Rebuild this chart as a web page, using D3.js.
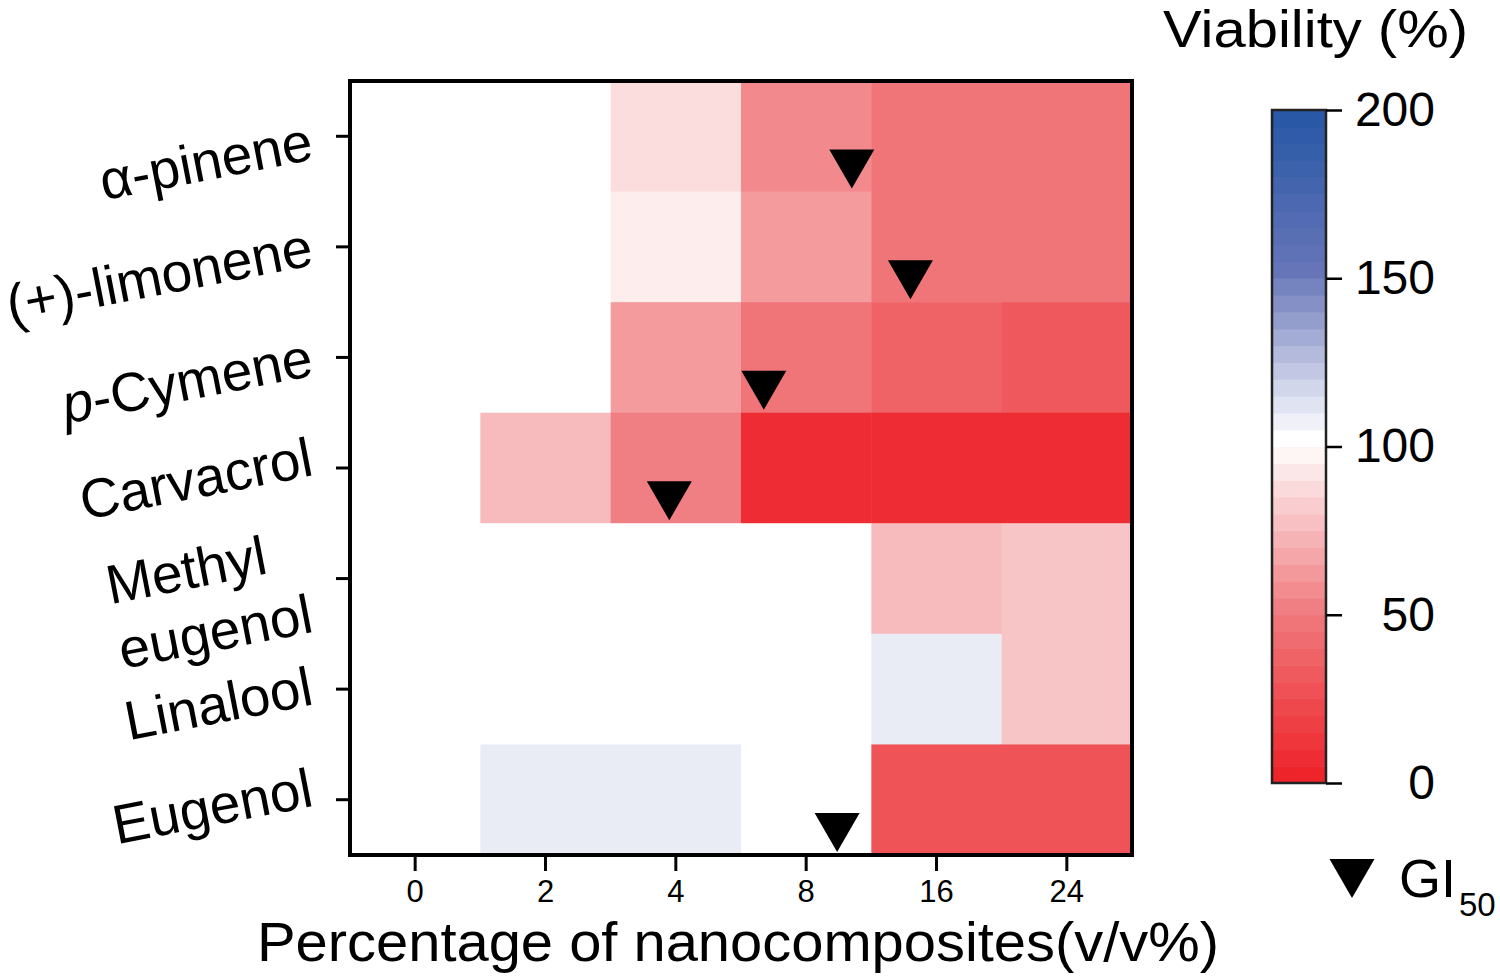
<!DOCTYPE html>
<html>
<head>
<meta charset="utf-8">
<script src="https://cdn.jsdelivr.net/npm/d3@7"></script>
<style>
  html, body { margin: 0; padding: 0; background: #fff; }
  svg { display: block; font-family: "Liberation Sans", Arial, sans-serif; }
</style>
</head>
<body>
<svg id="chart" width="1500" height="978"></svg>
<script>
// ---------------- data ----------------
const compounds = ["α-pinene", "(+)-limonene", "p-Cymene", "Carvacrol", "Methyl eugenol", "Linalool", "Eugenol"];
const concentrationLabels = ["0", "2", "4", "8", "16", "24"];
const concentrationValues = [0, 2, 4, 8, 16, 24];

// viability (%) per compound, one value per concentration
const viabilityAlphaPinene    = [100, 100, 87, 55, 46, 46];
const viabilityLimonene       = [100, 100, 93, 62, 46, 46];
const viabilityCymene         = [100, 100, 62, 46, 36, 30];
const viabilityCarvacrol      = [100, 74, 51, 6, 6, 6];
const viabilityMethylEugenol  = [100, 100, 100, 100, 74, 78];
const viabilityLinalool       = [100, 100, 100, 100, 107, 78];
const viabilityEugenol        = [100, 107, 107, 100, 27, 27];

// GI50 (v/v%), null = not reached
const gi50 = [10.8, 14.4, 6.7, 3.9, null, null, 9.9];

const colorbarTicks = [0, 50, 100, 150, 200];

// --------------- layout ---------------
const svg = d3.select("#chart");
const plot = { left: 350, right: 1132, top: 81, bottom: 855 };

const matrix = [viabilityAlphaPinene, viabilityLimonene, viabilityCymene, viabilityCarvacrol,
                viabilityMethylEugenol, viabilityLinalool, viabilityEugenol];

const x = d3.scaleBand().domain(concentrationLabels).range([plot.left, plot.right]).padding(0);
const y = d3.scaleBand().domain(compounds).range([plot.top, plot.bottom]).padding(0);

const color = d3.scaleLinear()
  .domain([0, 50, 100, 150, 200])
  .range(["#ed2228", "#f07c80", "#ffffff", "#6675b8", "#2255a4"])
  .clamp(true);

// x position of GI50 on the (piecewise) concentration axis
const xg = d3.scaleLinear()
  .domain(concentrationValues)
  .range(concentrationLabels.map(c => x(c) + x.bandwidth() / 2));

// --------------- cells ---------------
const cells = [];
compounds.forEach((c, i) => concentrationLabels.forEach((k, j) => cells.push({ c, k, v: matrix[i][j] })));

svg.append("g").selectAll("rect")
  .data(cells)
  .join("rect")
  .attr("x", d => x(d.k))
  .attr("y", d => y(d.c))
  .attr("width", x.bandwidth() + 0.5)
  .attr("height", y.bandwidth() + 0.5)
  .attr("fill", d => color(d.v));

// --------------- GI50 markers ---------------
const triW = 45, triH = 39;
const tri = (cx, tipY) => `M${cx - triW / 2},${tipY - triH}L${cx + triW / 2},${tipY - triH}L${cx},${tipY}Z`;

svg.append("g").selectAll("path")
  .data(compounds.map((c, i) => ({ c, g: gi50[i] })).filter(d => d.g != null))
  .join("path")
  .attr("d", d => tri(xg(d.g), y(d.c) + y.bandwidth() - 3))
  .attr("fill", "#000");

// --------------- frame ---------------
svg.append("rect")
  .attr("x", plot.left).attr("y", plot.top)
  .attr("width", plot.right - plot.left).attr("height", plot.bottom - plot.top)
  .attr("fill", "none").attr("stroke", "#000").attr("stroke-width", 4);

// --------------- x axis ---------------
const xAxis = svg.append("g").attr("transform", `translate(0,${plot.bottom + 2})`)
  .call(d3.axisBottom(x).tickSize(14).tickSizeOuter(0).tickPadding(9));
xAxis.select(".domain").remove();
xAxis.selectAll(".tick line").attr("stroke", "#000").attr("stroke-width", 3);
xAxis.selectAll(".tick text").attr("font-size", 31).attr("fill", "#000")
  .attr("font-family", "'Liberation Sans', Arial, sans-serif");

svg.append("text")
  .attr("x", 738).attr("y", 961)
  .attr("text-anchor", "middle")
  .attr("font-size", 55)
  .attr("textLength", 962).attr("lengthAdjust", "spacingAndGlyphs")
  .text("Percentage of nanocomposites(v/v%)");

// --------------- y axis ---------------
const yAxis = svg.append("g").attr("transform", `translate(${plot.left - 2},0)`)
  .call(d3.axisLeft(y).tickSize(12).tickSizeOuter(0));
yAxis.select(".domain").remove();
yAxis.selectAll(".tick text").remove();
yAxis.selectAll(".tick line").attr("stroke", "#000").attr("stroke-width", 3);

// rotated labels: right end of the (last) baseline placed near each tick
const labelFont = 55, lineH = 66, labelAngle = -11, labelRight = 315;
const labelDrop = [23, 18, 18, 7, 53, 15, 6];   // layout: baseline offset below tick
const labels = svg.append("g").selectAll("g")
  .data(compounds)
  .join("g")
  .attr("transform", (d, i) => `translate(${labelRight},${y(d) + y.bandwidth() / 2 + labelDrop[i]}) rotate(${labelAngle})`);

labels.each(function (d) {
  const g = d3.select(this);
  const lines = d.includes(" ") ? d.split(" ") : [d];
  const t = g.append("text").attr("font-size", labelFont).attr("fill", "#000");
  if (lines.length === 1) {
    t.attr("text-anchor", "end");
    if (d.startsWith("p-")) {
      t.append("tspan").attr("font-style", "italic").text("p");
      t.append("tspan").text(d.slice(1));
    } else {
      t.text(d);
    }
  } else {
    // left aligned block of lines; last line's baseline at the anchor
    const n = lines.length;
    const tspans = lines.map((ln, i) => t.append("tspan")
      .attr("y", -(n - 1 - i) * lineH)
      .text(ln));
    const widths = tspans.map(s => s.node().getComputedTextLength());
    const maxW = d3.max(widths);
    tspans.forEach(s => s.attr("x", -maxW));
  }
});

// --------------- colorbar ---------------
const cb = { x: 1272, w: 54, top: 110, bottom: 783 };
const yc = d3.scaleLinear().domain([0, 200]).range([cb.bottom, cb.top]);
const step = 5;
svg.append("g").selectAll("rect")
  .data(d3.range(0, 200, step))
  .join("rect")
  .attr("x", cb.x)
  .attr("y", d => yc(d + step))
  .attr("width", cb.w)
  .attr("height", d => yc(d) - yc(d + step) + 0.6)
  .attr("fill", d => color(d >= 100 ? d : d + step * 0.2));

svg.append("rect")
  .attr("x", cb.x).attr("y", cb.top).attr("width", cb.w).attr("height", cb.bottom - cb.top)
  .attr("fill", "none").attr("stroke", "#222").attr("stroke-width", 2.5);

const cAxis = svg.append("g").attr("transform", `translate(${cb.x + cb.w},0)`)
  .call(d3.axisRight(yc).tickValues(colorbarTicks).tickSize(16).tickSizeOuter(0).tickPadding(14));
cAxis.select(".domain").remove();
cAxis.selectAll(".tick line").attr("stroke", "#000").attr("stroke-width", 2.5);
cAxis.selectAll(".tick text")
  .attr("font-size", 48).attr("fill", "#000")
  .attr("font-family", "'Liberation Sans', Arial, sans-serif")
  .attr("text-anchor", "end")
  .attr("x", 1435 - (cb.x + cb.w));

svg.append("text")
  .attr("x", 1163).attr("y", 47)
  .attr("font-size", 52)
  .attr("textLength", 305).attr("lengthAdjust", "spacingAndGlyphs")
  .text("Viability (%)");

// --------------- GI50 legend ---------------
svg.append("path").attr("d", tri(1352, 898)).attr("fill", "#000");
const gl = svg.append("text").attr("x", 1399).attr("y", 897).attr("font-size", 54);
gl.append("tspan").text("GI");
gl.append("tspan").attr("font-size", 33).attr("dy", 19).attr("dx", 3).text("50");
</script>
</body>
</html>
